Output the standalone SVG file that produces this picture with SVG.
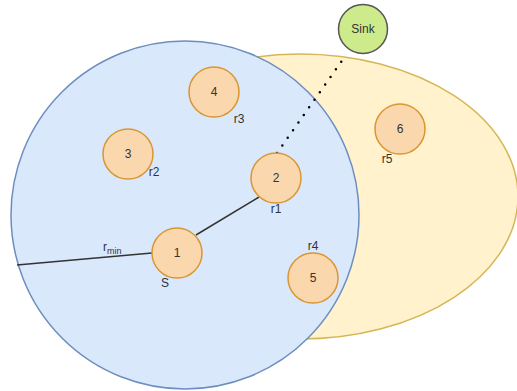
<svg xmlns="http://www.w3.org/2000/svg" width="517" height="391" viewBox="0 0 517 391">
<style>
.node circle{fill:#fad7ac;stroke:#d99633;stroke-width:1.5}
text{font-family:"Liberation Sans",Arial,sans-serif;font-size:12px;fill:#333}
.c{text-anchor:middle;dominant-baseline:central}
</style>
<rect width="517" height="391" fill="#fff"/>
<g id="range-sink"><ellipse cx="300" cy="196.5" rx="218" ry="142.5" fill="#fff2cc" stroke="#d6b656" stroke-width="1.5"/></g>
<g id="range-s"><circle cx="185" cy="215" r="174" fill="#dae8fc" stroke="#6c8ebf" stroke-width="1.5"/></g>
<g id="connectors" stroke="#333">
<line x1="17" y1="265" x2="152" y2="253" stroke-width="1.5"/>
<line x1="196" y1="235" x2="259" y2="197" stroke-width="1.5"/>
<line x1="277" y1="153" x2="346" y2="55" stroke="#000" stroke-width="2.5" stroke-linecap="round" stroke-dasharray="0 9.3"/>
</g>
<g id="node-sink"><circle cx="363" cy="29" r="24.5" fill="#cdeb8b" stroke="#555" stroke-width="1.5"/><text class="c" x="363" y="29">Sink</text></g>
<g id="node-1" class="node"><circle cx="177" cy="253" r="25"/><text class="c" x="177" y="253">1</text></g>
<g id="node-2" class="node"><circle cx="276" cy="178" r="25"/><text class="c" x="276" y="178">2</text></g>
<g id="node-3" class="node"><circle cx="128" cy="154" r="25"/><text class="c" x="128" y="154">3</text></g>
<g id="node-4" class="node"><circle cx="214" cy="92" r="25"/><text class="c" x="214" y="92">4</text></g>
<g id="node-5" class="node"><circle cx="313" cy="278" r="25"/><text class="c" x="313" y="278">5</text></g>
<g id="node-6" class="node"><circle cx="400" cy="129" r="25"/><text class="c" x="400" y="129">6</text></g>
<g id="labels">
<text class="c" x="239" y="119">r3</text>
<text class="c" x="154" y="172">r2</text>
<text class="c" x="276" y="209">r1</text>
<text class="c" x="313" y="246">r4</text>
<text class="c" x="387" y="159">r5</text>
<text class="c" x="165" y="283">S</text>
<text x="103" y="251">r<tspan font-size="9" dy="3">min</tspan></text>
</g>
</svg>
